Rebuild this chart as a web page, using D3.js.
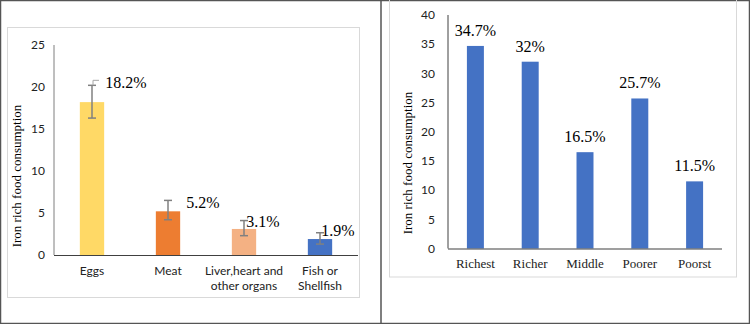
<!DOCTYPE html>
<html>
<head>
<meta charset="utf-8">
<script src="https://cdn.jsdelivr.net/npm/d3@7"></script>
<style>
  body { margin: 0; background: #fff; }
  svg { display: block; }
</style>
</head>
<body>
<script>
const WIDTH = 750;
const HEIGHT = 324;

// left chart: food groups
const foods = ['Eggs', 'Meat', 'Liver,heart and|other organs', 'Fish or|Shellfish'];
const foodValues = [18.2, 5.2, 3.1, 1.9];
const foodLow = [16.3, 4.2, 2.3, 1.3];
const foodHigh = [20.2, 6.5, 4.1, 2.65];
const foodColors = ['#FFD966', '#ED7D31', '#F4B183', '#4472C4'];
const foodTicks = [0, 5, 10, 15, 20, 25];

// right chart: wealth index
const wealth = ['Richest', 'Richer', 'Middle', 'Poorer', 'Poorst'];
const wealthValues = [34.7, 32, 16.5, 25.7, 11.5];
const wealthTicks = [0, 5, 10, 15, 20, 25, 30, 35, 40];

const SANS = 'Lato, "Open Sans", sans-serif';
const SERIF = '"Liberation Serif", Tinos, "DejaVu Serif Condensed", "DejaVu Serif", serif';

let svg = d3.select('body').append('svg')
  .attr('width', WIDTH)
  .attr('height', HEIGHT);

// outer frames
svg.append('rect').attr('x', 0.5).attr('y', 0.5).attr('width', WIDTH - 1).attr('height', HEIGHT - 1)
  .attr('fill', 'none').attr('stroke', '#555').attr('stroke-width', 1.5);
svg.append('line').attr('x1', 381).attr('x2', 381).attr('y1', 0).attr('y2', HEIGHT)
  .attr('stroke', '#555').attr('stroke-width', 1.5);

// inner chart areas (light gray)
svg.append('rect').attr('x', 7.5).attr('y', 27.5).attr('width', 352).attr('height', 270)
  .attr('fill', 'none').attr('stroke', '#d9d9d9');
svg.append('rect').attr('x', 389.5).attr('y', -1).attr('width', 347).attr('height', 278)
  .attr('fill', 'none').attr('stroke', '#d9d9d9');

// ---------- left chart ----------
let x1 = d3.scaleBand().domain(foods).range([54, 358]).paddingInner(0.68).paddingOuter(0.34);
let y1 = d3.scaleLinear().domain([0, 25]).range([255, 45]);

let g1 = svg.append('g');

g1.append('line').attr('x1', 54).attr('x2', 54).attr('y1', y1(25)).attr('y2', y1(0))
  .attr('stroke', '#7f7f7f');

g1.selectAll('.ytick').data(foodTicks).enter().append('text')
  .attr('x', 45).attr('y', d => y1(d)).attr('dy', '0.35em')
  .attr('text-anchor', 'end')
  .style('font-family', SANS).style('font-size', '12px').style('fill', '#222')
  .text(d => d);

g1.selectAll('.bar').data(foods).enter().append('rect')
  .attr('x', d => x1(d))
  .attr('y', (d, i) => y1(foodValues[i]))
  .attr('width', x1.bandwidth())
  .attr('height', (d, i) => y1(0) - y1(foodValues[i]))
  .attr('fill', (d, i) => foodColors[i]);

g1.append('line').attr('x1', 54).attr('x2', 358).attr('y1', y1(0) + 0.5).attr('y2', y1(0) + 0.5)
  .attr('stroke', '#404040').attr('stroke-width', 1.2);

// error bars
foods.forEach((d, i) => {
  let cx = x1(d) + x1.bandwidth() / 2;
  let eb = g1.append('g').attr('stroke', '#808080').attr('stroke-width', 1.5);
  eb.append('line').attr('x1', cx).attr('x2', cx).attr('y1', y1(foodLow[i])).attr('y2', y1(foodHigh[i]));
  eb.append('line').attr('x1', cx - 4).attr('x2', cx + 4).attr('y1', y1(foodLow[i])).attr('y2', y1(foodLow[i]));
  eb.append('line').attr('x1', cx - 4).attr('x2', cx + 4).attr('y1', y1(foodHigh[i])).attr('y2', y1(foodHigh[i]));
});

// leader line for the eggs label
let eggX = x1(foods[0]) + x1.bandwidth() / 2;
g1.append('path')
  .attr('d', `M${eggX + 1},${y1(foodHigh[0])} L${eggX + 1},${y1(foodHigh[0]) - 5} L${eggX + 7},${y1(foodHigh[0]) - 5}`)
  .attr('fill', 'none').attr('stroke', '#a6a6a6').attr('stroke-width', 1);

// label offset from bar's right edge (px) and label height (in data units)
const labelShift = [[1, 20.6], [6, 6.3], [-10, 4.05], [-11, 2.98]];
g1.selectAll('.lbl').data(foods).enter().append('text')
  .attr('x', (d, i) => x1(d) + x1.bandwidth() + labelShift[i][0])
  .attr('y', (d, i) => y1(labelShift[i][1]))
  .attr('dy', '0.35em')
  .style('font-family', SERIF).style('font-size', '16px').style('fill', '#000')
  .text((d, i) => foodValues[i] + '%');

g1.selectAll('.xlab').data(foods).enter().append('text')
  .attr('x', d => x1(d) + x1.bandwidth() / 2)
  .attr('y', 275)
  .attr('text-anchor', 'middle')
  .style('font-family', SANS).style('font-size', '12px').style('fill', '#222')
  .each(function (d) {
    d.split('|').forEach((line, k) => {
      d3.select(this).append('tspan')
        .attr('x', x1(d) + x1.bandwidth() / 2)
        .attr('dy', k === 0 ? 0 : 15)
        .text(line);
    });
  });

g1.append('text')
  .attr('transform', 'translate(21,176) rotate(-90)')
  .attr('text-anchor', 'middle')
  .style('font-family', SERIF).style('font-size', '13px').style('fill', '#000')
  .text('Iron rich food consumption');

// ---------- right chart ----------
let x2 = d3.scaleBand().domain(wealth).range([448, 722]).paddingInner(0.69).paddingOuter(0.345);
let y2 = d3.scaleLinear().domain([0, 40]).range([248.5, 15]);

let g2 = svg.append('g');

g2.append('line').attr('x1', 448).attr('x2', 448).attr('y1', y2(40)).attr('y2', y2(0))
  .attr('stroke', '#404040');

g2.selectAll('.ytick').data(wealthTicks).enter().append('text')
  .attr('x', 435).attr('y', d => y2(d)).attr('dy', '0.35em')
  .attr('text-anchor', 'end')
  .style('font-family', SANS).style('font-size', '12px').style('fill', '#222')
  .text(d => d);

g2.selectAll('.bar').data(wealth).enter().append('rect')
  .attr('x', d => x2(d))
  .attr('y', (d, i) => y2(wealthValues[i]))
  .attr('width', x2.bandwidth())
  .attr('height', (d, i) => y2(0) - y2(wealthValues[i]))
  .attr('fill', '#4472C4');

g2.append('line').attr('x1', 448).attr('x2', 722).attr('y1', y2(0) + 0.5).attr('y2', y2(0) + 0.5)
  .attr('stroke', '#404040').attr('stroke-width', 1.2);

g2.selectAll('.lbl').data(wealth).enter().append('text')
  .attr('x', d => x2(d) + x2.bandwidth() / 2)
  .attr('y', (d, i) => y2(wealthValues[i]) - 10)
  .attr('text-anchor', 'middle')
  .style('font-family', SERIF).style('font-size', '16px').style('fill', '#000')
  .text((d, i) => wealthValues[i] + '%');

g2.selectAll('.xlab').data(wealth).enter().append('text')
  .attr('x', d => x2(d) + x2.bandwidth() / 2)
  .attr('y', 268)
  .attr('text-anchor', 'middle')
  .style('font-family', SERIF).style('font-size', '13px').style('fill', '#222')
  .text(d => d);

g2.append('text')
  .attr('transform', 'translate(412,163) rotate(-90)')
  .attr('text-anchor', 'middle')
  .style('font-family', SERIF).style('font-size', '13px').style('fill', '#000')
  .text('Iron rich food consumption');
</script>
</body>
</html>
